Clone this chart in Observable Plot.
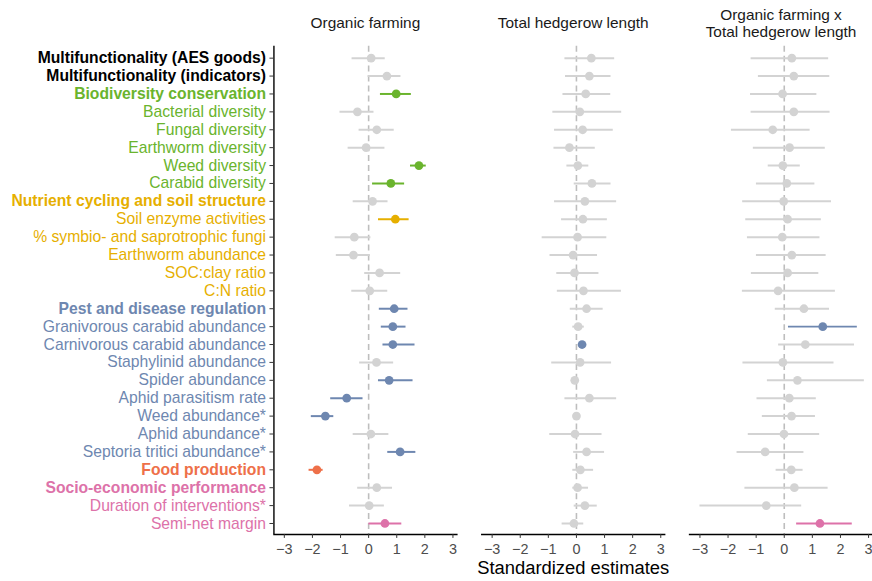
<!DOCTYPE html>
<html>
<head>
<meta charset="utf-8">
<script src="https://cdn.jsdelivr.net/npm/d3@7"></script>
<script src="https://cdn.jsdelivr.net/npm/@observablehq/plot@0.6"></script>
<style>
  html, body { margin: 0; padding: 0; background: #fff; overflow: hidden; }
  #chart svg { display: block; }
</style>
</head>
<body>
<div id="chart"></div>
<script>
const labels = [
  "Multifunctionality (AES goods)", "Multifunctionality (indicators)",
  "Biodiversity conservation", "Bacterial diversity", "Fungal diversity",
  "Earthworm diversity", "Weed diversity", "Carabid diversity",
  "Nutrient cycling and soil structure", "Soil enzyme activities",
  "% symbio- and saprotrophic fungi", "Earthworm abundance", "SOC:clay ratio", "C:N ratio",
  "Pest and disease regulation", "Granivorous carabid abundance", "Carnivorous carabid abundance",
  "Staphylinid abundance", "Spider abundance", "Aphid parasitism rate", "Weed abundance*",
  "Aphid abundance*", "Septoria tritici abundance*",
  "Food production",
  "Socio-economic performance", "Duration of interventions*", "Semi-net margin"
];
const groups = [
  "multi", "multi",
  "bio", "bio", "bio", "bio", "bio", "bio",
  "nutrient", "nutrient", "nutrient", "nutrient", "nutrient", "nutrient",
  "pest", "pest", "pest", "pest", "pest", "pest", "pest", "pest", "pest",
  "food",
  "socio", "socio", "socio"
];
const headers = [
  "Multifunctionality (AES goods)", "Multifunctionality (indicators)",
  "Biodiversity conservation", "Nutrient cycling and soil structure",
  "Pest and disease regulation", "Food production", "Socio-economic performance"
];
const models = ["Organic farming", "Total hedgerow length", "Organic farming x\nTotal hedgerow length"];

const organicEst = [0.09, 0.65, 0.98, -0.40, 0.29, -0.09, 1.79, 0.79, 0.14, 0.95, -0.51, -0.54, 0.39, 0.04, 0.91, 0.86, 0.86, 0.28, 0.73, -0.78, -1.54, 0.08, 1.12, -1.84, 0.29, 0.02, 0.58];
const organicLo  = [-0.59, -0.02, 0.42, -1.02, -0.34, -0.73, 1.49, 0.14, -0.55, 0.35, -1.19, -1.15, -0.14, -0.60, 0.38, 0.45, 0.51, -0.32, 0.35, -1.35, -2.04, -0.55, 0.68, -2.12, -0.39, -0.68, 0.01];
const organicHi  = [0.59, 1.15, 1.52, 0.19, 0.91, 0.58, 2.05, 1.28, 0.69, 1.44, 0.08, 0.06, 1.14, 0.68, 1.40, 1.33, 1.65, 0.89, 1.58, -0.20, -1.24, 0.72, 1.68, -1.62, 0.85, 0.56, 1.18];

const hedgeEst = [0.53, 0.46, 0.33, 0.12, 0.22, -0.25, 0.05, 0.55, 0.30, 0.23, 0.04, -0.12, -0.07, 0.25, 0.36, 0.06, 0.20, 0.13, -0.06, 0.46, 0.00, -0.05, 0.36, 0.14, 0.04, 0.30, -0.09];
const hedgeLo  = [-0.41, -0.39, -0.48, -0.84, -0.78, -0.80, -0.34, -0.08, -0.78, -0.53, -1.22, -0.94, -0.70, -0.68, -0.22, -0.13, 0.12, -0.88, -0.15, -0.41, -0.10, -0.95, -0.10, -0.13, -0.13, -0.08, -0.51];
const hedgeHi  = [1.36, 1.23, 1.22, 1.61, 1.31, 0.67, 0.44, 1.23, 1.43, 1.10, 1.08, 0.75, 0.80, 1.60, 0.95, 0.28, 0.28, 1.25, 0.03, 1.43, 0.13, 0.91, 1.00, 0.61, 0.43, 0.74, 0.26];

const interEst = [0.27, 0.34, -0.06, 0.34, -0.41, 0.19, -0.05, 0.09, -0.02, 0.12, -0.07, 0.27, 0.12, -0.22, 0.70, 1.37, 0.75, -0.05, 0.47, 0.18, 0.26, -0.01, -0.68, 0.25, 0.36, -0.64, 1.27];
const interLo  = [-1.18, -0.92, -1.20, -1.18, -1.88, -1.10, -0.57, -0.99, -1.48, -1.37, -1.31, -0.99, -1.17, -1.49, -0.32, 0.15, -0.20, -1.47, -0.60, -0.97, -0.78, -1.28, -1.68, -0.29, -1.40, -3.00, 0.44];
const interHi  = [1.58, 1.62, 1.16, 1.63, 0.92, 1.46, 0.57, 1.09, 1.68, 1.32, 1.27, 1.49, 1.23, 1.82, 1.61, 2.60, 2.50, 1.77, 2.85, 1.14, 1.11, 1.26, 0.70, 0.67, 1.56, 0.62, 2.42];

const xTicks = [-3, -2, -1, 0, 1, 2, 3];

const groupColor = {
  multi: "#000000", bio: "#6AB42D", nutrient: "#E6AF00",
  pest: "#6E87B0", food: "#EE7049", socio: "#DD72A9"
};
const nsColor = "#D3D3D3";
const labelGroup = new Map(labels.map((l, i) => [l, groups[i]]));

const series = [
  [organicEst, organicLo, organicHi],
  [hedgeEst, hedgeLo, hedgeHi],
  [interEst, interLo, interHi]
];
const rows = [];
models.forEach((m, k) => {
  const [e, lo, hi] = series[k];
  labels.forEach((l, i) => {
    rows.push({model: m, label: l, est: e[i], lo: lo[i], hi: hi[i], group: groups[i]});
  });
});
const colorOf = d => (d.lo > 0 || d.hi < 0) ? groupColor[d.group] : nsColor;
const xDomain = [-3.37, 3.14];
const font = "'Liberation Sans', Arial, sans-serif";
const fmt = d => d < 0 ? "\u2212" + (-d) : String(d);

const chart = Plot.plot({
  width: 877,
  height: 581,
  marginLeft: 274,
  marginRight: 0,
  marginTop: 46,
  marginBottom: 44,
  style: {fontFamily: font, fontSize: "15.8px", background: "#fff"},
  fx: {domain: models, paddingInner: 0.122, paddingOuter: 0},
  x: {domain: xDomain},
  y: {domain: labels, type: "point", padding: 0.6},
  color: {type: "identity"},
  marks: [
    Plot.ruleX([0], {stroke: "#BEBEBE", strokeWidth: 1.6, strokeDasharray: "6,4"}),
    Plot.ruleY(rows, {fx: "model", y: "label", x1: "lo", x2: "hi", stroke: colorOf, strokeWidth: 2}),
    Plot.dot(rows, {fx: "model", x: "est", y: "label", fill: colorOf, r: 4.4}),
    Plot.frame({anchor: "bottom", stroke: "#000", strokeWidth: 1.4}),
    Plot.ruleX([models[0]], {fx: d => d, x: () => xDomain[0], stroke: "#000", strokeWidth: 1.4}),
    Plot.axisX({ticks: xTicks, tickFormat: fmt, tickSize: 4, tickPadding: 5, label: null, fill: "#4D4D4D", stroke: "#333", fontSize: 14.5}),
    Plot.axisY({ticks: headers, facetAnchor: "left", anchor: "left", tickSize: 4, tickPadding: 4, label: null,
      fill: d => groupColor[labelGroup.get(d)], stroke: "#333", fontWeight: "bold", fontSize: 15.8}),
    Plot.axisY({ticks: labels.filter(l => !headers.includes(l)), facetAnchor: "left", anchor: "left", tickSize: 4, tickPadding: 4, label: null,
      fill: d => groupColor[labelGroup.get(d)], stroke: "#333", fontSize: 15.8}),
    Plot.axisFx({anchor: "top", tickSize: 0, tickPadding: 23.5, lineAnchor: "middle", lineHeight: 1.1, label: null, fill: "#1A1A1A", fontSize: 15.5}),
    Plot.text([models[1]], {fx: d => d, text: () => "Standardized estimates", frameAnchor: "bottom", dy: 40, fontSize: 18.5, fill: "#000"})
  ]
});
document.getElementById("chart").appendChild(chart);
</script>
</body>
</html>
